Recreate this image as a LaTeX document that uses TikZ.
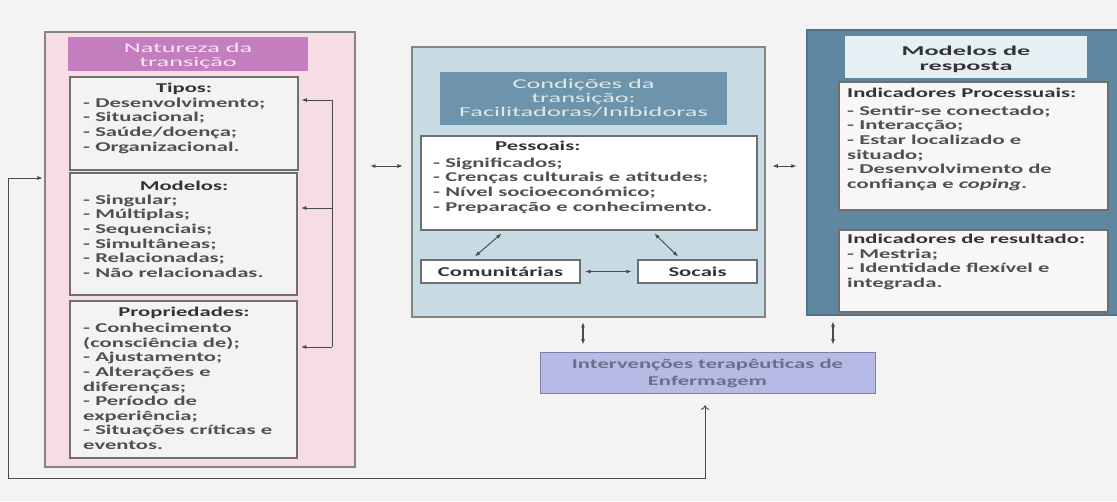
\documentclass[tikz,border=0pt]{standalone}
\usepackage{fontspec}
\setmainfont{Carlito}[FakeStretch=1.68]
\newfontfamily\ttlfont{Carlito}[FakeStretch=1.95]
\usetikzlibrary{fit,arrows.meta,calc}
\definecolor{bg}{HTML}{F3F3F3}
\definecolor{pinkbg}{HTML}{F5DCE5}
\definecolor{purp}{HTML}{C47DBE}
\definecolor{purptxt}{HTML}{F6E6F3}
\definecolor{ltblue}{HTML}{C7DBE4}
\definecolor{stblue}{HTML}{6D94AA}
\definecolor{stbluetxt}{HTML}{DCE8EE}
\definecolor{dkblue}{HTML}{5F87A0}
\definecolor{paleblue}{HTML}{E6EFF4}
\definecolor{lav}{HTML}{B8BAE6}
\definecolor{lavline}{HTML}{7E80A8}
\definecolor{lavtxt}{HTML}{6A6F8C}
\definecolor{txtc}{HTML}{505050}
\definecolor{hdc}{HTML}{333333}
\definecolor{linec}{HTML}{4A4A4A}
\definecolor{boxline}{HTML}{6E6E6E}
\definecolor{panelline}{HTML}{858585}
\begin{document}
\begin{tikzpicture}[x=0.03cm,y=-0.03cm,
  panel/.style={draw=panelline,line width=0.9pt,inner sep=0pt},
  ibox/.style={draw=boxline,fill=bg,line width=1pt,inner sep=0pt},
  tbox/.style={inner sep=0pt},
  txt/.style={inner sep=0pt,align=left,text=txtc,font=\fontsize{11.5}{12.5}\selectfont\bfseries},
  hd/.style={inner sep=0pt,align=center,text=hdc,font=\fontsize{11.5}{12.5}\selectfont\bfseries},
  ttl/.style={inner sep=0pt,align=center,font=\ttlfont\fontsize{11.5}{12.3}\selectfont},
  ln/.style={draw=linec,line width=0.8pt},
  arr/.style={ln,-{Latex[length=4.5pt,width=3.5pt]}},
  darr/.style={ln,{Latex[length=4.5pt,width=3.5pt]}-{Latex[length=4.5pt,width=3.5pt]}},
  oarr/.style={ln,-{To[length=4pt,width=7pt]}}
]
\fill[bg] (0,0) rectangle (1117,501);
\useasboundingbox (0,0) rectangle (1117,501);

% (multi-line nodes are placed by the baseline of their last line)
% ---------- left panel ----------
\node[panel,fill=pinkbg,fit={(45,32) (355,467)}] (lp) {};
\node[tbox,fill=purp,fit={(68,37) (308,71)}] (lpt) {};
\node[ttl,text=purptxt,anchor=base] (lptt) at (188,66.5) {Natureza da\\transição};

\node[ibox,fit={(70,77) (298,170)}] (tipos) {};
\node[hd,anchor=base] (tiposh) at (184,92) {Tipos:};
\node[txt,anchor=base west] (tiposl) at (83,151.1) {- Desenvolvimento;\\- Situacional;\\- Saúde/doença;\\- Organizacional.};

\node[ibox,fit={(70,173) (297,295)}] (modelos) {};
\node[hd,anchor=base] (modelosh) at (184,190) {Modelos:};
\node[txt,anchor=base west] (modelosl) at (83,277.5) {- Singular;\\- Múltiplas;\\- Sequenciais;\\- Simultâneas;\\- Relacionadas;\\- Não relacionadas.};

\node[ibox,fit={(70,301) (297,458)}] (prop) {};
\node[hd,anchor=base] (proph) at (184,316) {Propriedades:};
\node[txt,anchor=base west] (propl) at (83,449.6) {- Conhecimento\\(consciência de);\\- Ajustamento;\\- Alterações e\\diferenças;\\- Período de\\experiência;\\- Situações críticas e\\eventos.};

% bracket
\coordinate (b1) at (332,100);
\coordinate (b2) at (332,208);
\coordinate (b3) at (332,347);
\draw[ln] (b1) -- (b3);
\draw[arr,shorten >=2.5pt] (b1) -- (b1 -| tipos.east);
\draw[arr,shorten >=3pt] (b2) -- (b2 -| modelos.east);
\draw[arr,shorten >=3pt] (b3) -- (b3 -| prop.east);

% ---------- middle panel ----------
\node[panel,fill=ltblue,fit={(412,47) (765,317)}] (mp) {};
\node[tbox,fill=stblue,fit={(440,72) (727,125)}] (mpt) {};
\node[ttl,text=stbluetxt,anchor=base] (mptt) at (583.5,116.9) {Condições da\\transição:\\Facilitadoras/Inibidoras};

\node[ibox,fill=white,fit={(421,136) (757,230)}] (pess) {};
\node[hd,anchor=base west] (pessh) at (495,150) {Pessoais:};
\node[txt,anchor=base west] (pessl) at (433,211.1) {- Significados;\\- Crenças culturais e atitudes;\\- Nível socioeconómico;\\- Preparação e conhecimento.};

\node[ibox,fill=white,fit={(421,260) (580,283)}] (com) {};
\node[hd] (comt) at (com.center) {Comunitárias};
\node[ibox,fill=white,fit={(638,260) (757,283)}] (soc) {};
\node[hd] (soct) at (soc.center) {Socais};

\draw[darr] ($(pess.south west)+(81,3)$) -- ($(com.north)+(-25.5,-3)$);
\draw[darr] ($(pess.south west)+(234,3)$) -- ($(soc.north)+(-19.5,-3)$);
\draw[darr,shorten <=4pt,shorten >=5pt] (com.east) -- (soc.west);

% ---------- right panel ----------
\node[panel,draw=dkblue!85!black,fill=dkblue,fit={(807,30) (1130,315)}] (rp) {};
\node[tbox,fill=paleblue,fit={(845,36) (1087,78)}] (rpt) {};
\node[ttl,text=hdc,font=\ttlfont\fontsize{11.5}{12.8}\selectfont\bfseries,anchor=base] (rptt) at (966,70) {Modelos de\\resposta};

\node[ibox,fill=white!97!black,fit={(839,82) (1108,210)}] (ip) {};
\node[hd,anchor=base west] (iph) at (847,97) {Indicadores Processuais:};
\node[txt,anchor=base west] (ipl) at (847,188.5) {- Sentir-se conectado;\\- Interacção;\\- Estar localizado e\\situado;\\- Desenvolvimento de\\confiança e \textit{coping}.};

\node[ibox,fill=white!97!black,fit={(839,230) (1108,312)}] (ir) {};
\node[hd,anchor=base west] (irh) at (847,243) {Indicadores de resultado:};
\node[txt,anchor=base west] (irl) at (847,287.4) {- Mestria;\\- Identidade flexível e\\integrada.};

% ---------- interventions ----------
\node[draw=lavline,fill=lav,line width=0.8pt,inner sep=0pt,fit={(540,352) (875,393)}] (interv) {};
\node[hd,text=lavtxt,font=\fontsize{11.5}{14.5}\selectfont\bfseries,anchor=base] (intervt) at (707.5,385) {Intervenções terapêuticas de\\Enfermagem};

% ---------- connectors between panels ----------
\coordinate (hy) at (0,166);
\draw[darr,shorten <=12.5pt,shorten >=7.5pt] (lp.east |- hy) -- (mp.west |- hy);
\draw[darr,shorten <=6pt,shorten >=8.5pt] (mp.east |- hy) -- (rp.west |- hy);

\coordinate (v1) at (583,0);
\coordinate (v2) at (833,0);
\draw[darr,line width=1.1pt,shorten <=4pt,shorten >=6pt] (mp.south -| v1) -- (interv.north -| v1);
\draw[darr,line width=1.1pt,shorten <=5pt,shorten >=6pt] (rp.south -| v2) -- (interv.north -| v2);

% ---------- feedback loop ----------
\coordinate (f1) at (8,178);
\coordinate (f2) at (8,478);
\coordinate (f3) at (705,478);
\draw[arr,shorten >=1.5pt] (f1) -- (f1 -| lp.west);
\draw[oarr,shorten >=10pt] (f1) -- (f2) -- (f3) -- (f3 |- interv.south);
\end{tikzpicture}
\end{document}
